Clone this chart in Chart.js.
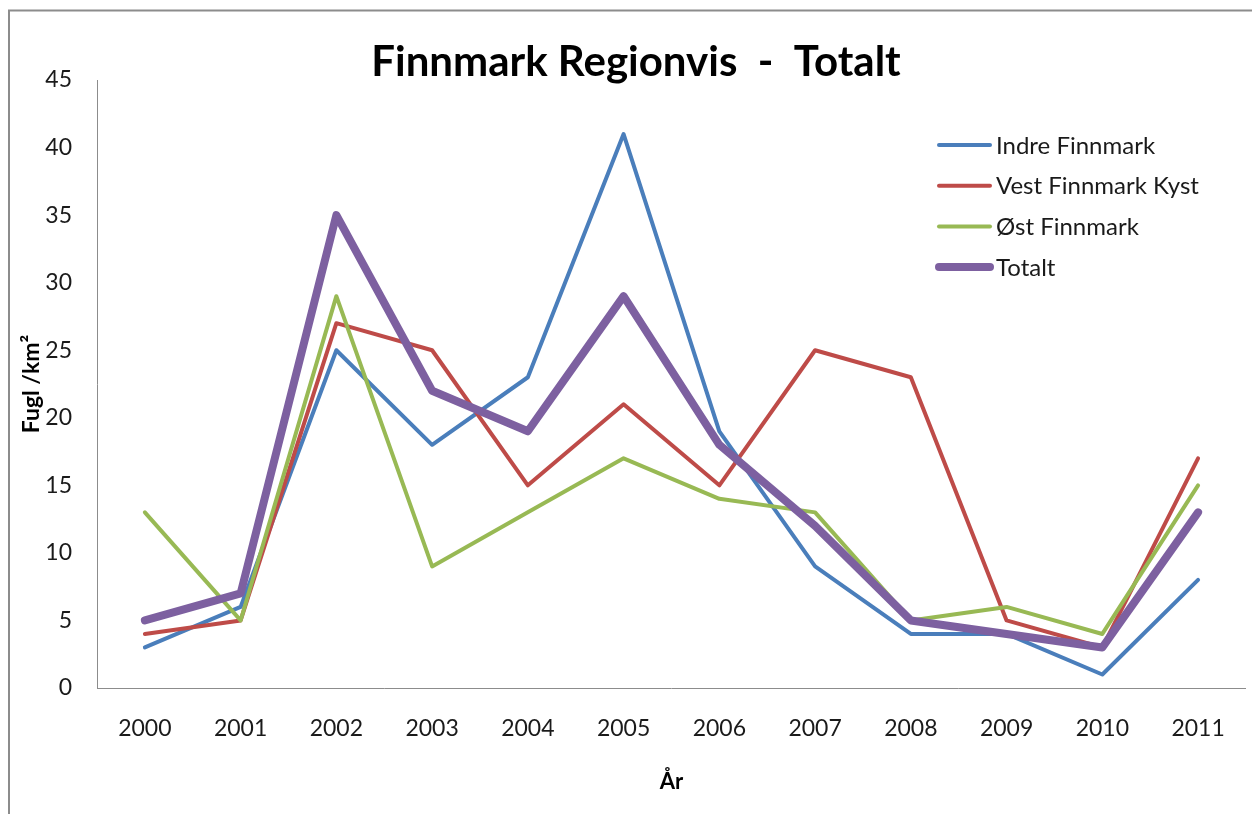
<!DOCTYPE html>
<html>
<head>
<meta charset="utf-8">
<script src="https://cdn.jsdelivr.net/npm/chart.js@4/dist/chart.umd.min.js"></script>
<style>
html,body{margin:0;padding:0;background:#fff;}
#wrap{width:1252px;height:814px;position:relative;}
</style>
</head>
<body>
<div id="wrap"><canvas id="c"></canvas></div>
<script>
const years = ['2000','2001','2002','2003','2004','2005','2006','2007','2008','2009','2010','2011'];
const indreFinnmark = [3, 6, 25, 18, 23, 41, 19, 9, 4, 4, 1, 8];
const vestFinnmarkKyst = [4, 5, 27, 25, 15, 21, 15, 25, 23, 5, 3, 17];
const ostFinnmark = [13, 5, 29, 9, 13, 17, 14, 13, 5, 6, 4, 15];
const totalt = [5, 7, 35, 22, 19, 29, 18, 12, 5, 4, 3, 13];
const seriesNames = ['Indre Finnmark', 'Vest Finnmark Kyst', 'Øst Finnmark', 'Totalt'];
const titleText = 'Finnmark Regionvis  -  Totalt';
const yTitle = 'Fugl /km²';
const xTitle = 'År';

const FONT = 'Lato, "Open Sans", sans-serif';

const decor = {
  id: 'decor',
  beforeDraw(chart) {
    const ctx = chart.ctx;
    ctx.save();
    ctx.fillStyle = '#fff';
    ctx.fillRect(0, 0, chart.width, chart.height);
    ctx.strokeStyle = '#8c8c8c';
    ctx.lineWidth = 2;
    ctx.strokeRect(9, 10.5, 1400, 1000);
    ctx.restore();
  },
  afterDraw(chart) {
    const ctx = chart.ctx;
    const a = chart.chartArea;
    ctx.save();
    ctx.fillStyle = '#000';
    ctx.textAlign = 'center';
    ctx.textBaseline = 'middle';
    ctx.font = 'bold 42px ' + FONT;
    ctx.fillText(titleText, 636, 62);
    ctx.font = 'bold 22px ' + FONT;
    ctx.fillText(xTitle, (a.left + a.right) / 2, 782);
    ctx.save();
    ctx.translate(32, (a.top + a.bottom) / 2);
    ctx.rotate(-Math.PI / 2);
    ctx.font = 'bold 23px ' + FONT;
    ctx.fillText(yTitle, 0, 0);
    ctx.restore();
    // legend
    ctx.textAlign = 'left';
    ctx.font = '24px ' + FONT;
    const ds = chart.data.datasets;
    ds.forEach((d, i) => {
      const y = 145 + i * 40.7;
      ctx.strokeStyle = d.borderColor;
      ctx.lineWidth = d.borderWidth;
      ctx.lineCap = 'round';
      ctx.beginPath();
      ctx.moveTo(939, y);
      ctx.lineTo(990, y);
      ctx.stroke();
      ctx.fillStyle = '#1a1a1a';
      ctx.fillText(d.label, 996, y + 1);
    });
    ctx.restore();
  }
};

const mk = (label, data, color, width, order) => ({
  label, data, borderColor: color, backgroundColor: color,
  borderWidth: width, pointRadius: 0, pointHoverRadius: 0,
  tension: 0, fill: false, borderJoinStyle: 'round', borderCapStyle: 'round', order
});

new Chart(document.getElementById('c'), {
  type: 'line',
  data: {
    labels: years,
    datasets: [
      mk(seriesNames[0], indreFinnmark, '#4A7EBB', 4, 4),
      mk(seriesNames[1], vestFinnmarkKyst, '#BE4B48', 4, 3),
      mk(seriesNames[2], ostFinnmark, '#98B954', 4, 2),
      mk(seriesNames[3], totalt, '#7D60A0', 8, 1)
    ]
  },
  options: {
    responsive: true,
    maintainAspectRatio: false,
    animation: false,
    devicePixelRatio: 1,
    layout: { padding: { top: 80, right: 6, left: 0, bottom: 0 } },
    plugins: { legend: { display: false }, title: { display: false }, tooltip: { enabled: false } },
    scales: {
      x: {
        type: 'category',
        offset: true,
        grid: { display: false, drawTicks: false },
        border: { display: true, color: '#8c8c8c', width: 1 },
        ticks: { color: '#1a1a1a', font: { family: FONT, size: 23 }, padding: 27, maxRotation: 0, autoSkip: false },
        afterFit(scale) { scale.height = 126; }
      },
      y: {
        min: 0, max: 45,
        grid: { display: false, drawTicks: false },
        border: { display: true, color: '#8c8c8c', width: 1 },
        ticks: { stepSize: 5, color: '#1a1a1a', font: { family: FONT, size: 23 }, padding: 25 },
        afterFit(scale) { scale.width = 97; }
      }
    }
  },
  plugins: [decor]
});
</script>
</body>
</html>
